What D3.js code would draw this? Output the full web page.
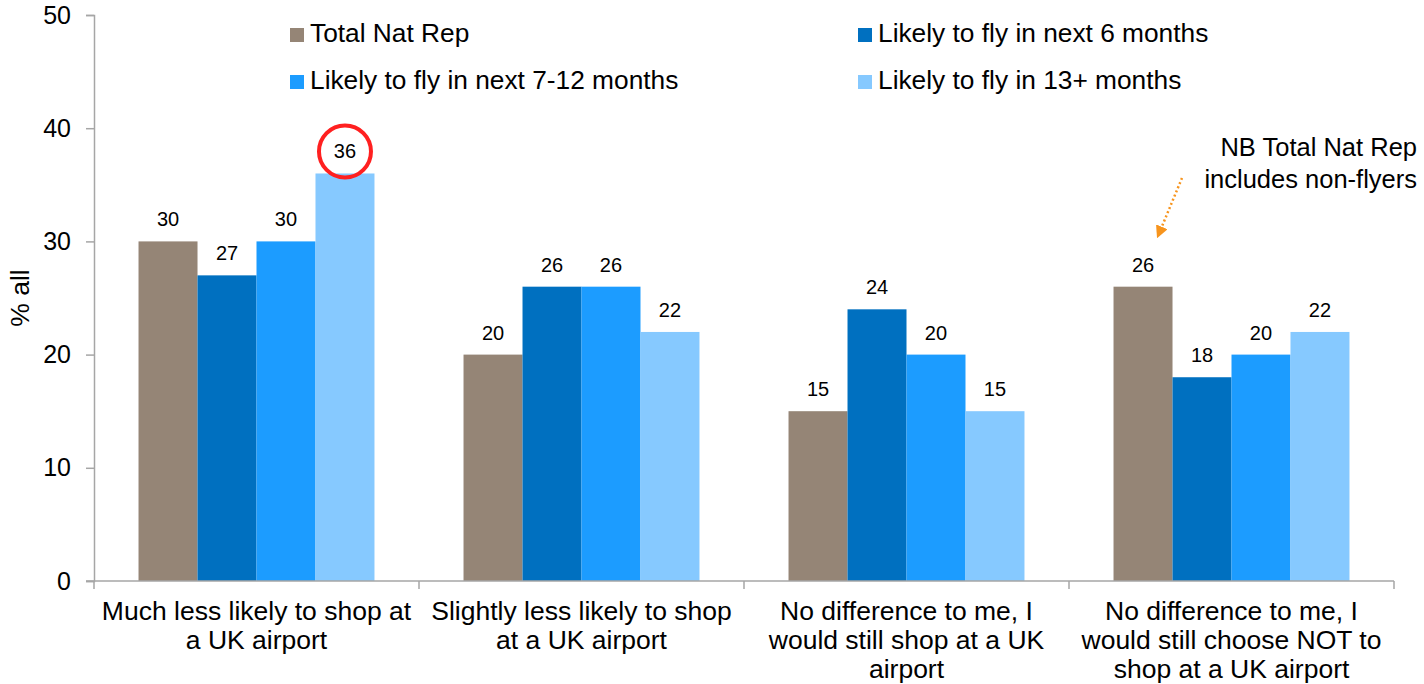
<!DOCTYPE html>
<html><head><meta charset="utf-8">
<script src="https://cdn.jsdelivr.net/npm/d3@7"></script>
<style>body{margin:0;background:#fff}svg{display:block;font-family:"Liberation Sans",Arial,sans-serif}</style>
</head><body>
<svg id="c" width="1424" height="684"></svg>
<script>
const categories = [
  ["Much less likely to shop at", "a UK airport"],
  ["Slightly less likely to shop", "at a UK airport"],
  ["No difference to me, I", "would still shop at a UK", "airport"],
  ["No difference to me, I", "would still choose NOT to", "shop at a UK airport"]
];
const seriesNames = ["Total Nat Rep", "Likely to fly in next 6 months", "Likely to fly in next 7-12 months", "Likely to fly in 13+ months"];
const seriesColors = ["#958576", "#0070C0", "#1C9CFF", "#86C9FF"];
const totalNatRep = [30, 20, 15, 26];
const next6 = [27, 26, 24, 18];
const next7to12 = [30, 26, 20, 20];
const months13plus = [36, 22, 15, 22];
const yTicks = [0, 10, 20, 30, 40, 50];

const series = [totalNatRep, next6, next7to12, months13plus];
const svg = d3.select("#c");
const x0 = d3.scaleBand().domain(d3.range(categories.length)).range([94, 1394]).paddingInner(0.274).paddingOuter(0.137);
const x1 = d3.scaleBand().domain(d3.range(series.length)).range([0, x0.bandwidth()]);
const y = d3.scaleLinear().domain([0, 50]).range([581, 15]);
const axisColor = "#A6A6A6";

// bars
series.forEach((vals, si) => {
  svg.append("g").selectAll("rect").data(vals).join("rect")
    .attr("x", (d, i) => x0(i) + x1(si))
    .attr("y", d => y(d))
    .attr("width", x1.bandwidth())
    .attr("height", d => y(0) - y(d))
    .attr("fill", seriesColors[si]);
  svg.append("g").selectAll("text").data(vals).join("text")
    .attr("x", (d, i) => x0(i) + x1(si) + x1.bandwidth() / 2)
    .attr("y", d => y(d) - 15)
    .attr("text-anchor", "middle")
    .attr("font-size", 20)
    .attr("fill", "#000")
    .text(d => d);
});

// y axis
const yAxis = svg.append("g").attr("transform", "translate(94,0)")
  .call(d3.axisLeft(y).tickValues(yTicks).tickSize(8).tickPadding(15));
yAxis.select(".domain").attr("stroke", axisColor).attr("stroke-width", 1.5);
yAxis.selectAll(".tick line").attr("stroke", axisColor).attr("stroke-width", 1.5);
yAxis.selectAll(".tick text").attr("font-size", 25).attr("fill", "#000").attr("font-family", "Liberation Sans, Arial, sans-serif");

// x axis
svg.append("line").attr("x1", 86).attr("x2", 1394).attr("y1", y(0)).attr("y2", y(0)).attr("stroke", axisColor).attr("stroke-width", 1.5);
const bounds = d3.range(categories.length + 1).map(i => 94 + i * x0.step());
svg.append("g").selectAll("line").data(bounds).join("line")
  .attr("x1", d => d).attr("x2", d => d).attr("y1", y(0)).attr("y2", y(0) + 8)
  .attr("stroke", axisColor).attr("stroke-width", 1.5);

// category labels
categories.forEach((lines, i) => {
  const cx = x0(i) + x0.bandwidth() / 2;
  const t = svg.append("text").attr("text-anchor", "middle").attr("font-size", 26.5).attr("fill", "#000")
    .attr("x", cx).attr("y", 620);
  lines.forEach((l, k) => t.append("tspan").attr("x", cx).attr("dy", k === 0 ? 0 : 29).text(l));
});

// y title
svg.append("text").attr("transform", "translate(29,298) rotate(-90)").attr("text-anchor", "middle")
  .attr("font-size", 26.5).attr("fill", "#000").text("% all");

// legend
const legendPos = [[290, 35], [858, 35], [290, 82], [858, 82]];
seriesNames.forEach((n, i) => {
  const [lx, ly] = legendPos[i];
  svg.append("rect").attr("x", lx).attr("y", ly - 7).attr("width", 14).attr("height", 14).attr("fill", seriesColors[i]);
  svg.append("text").attr("x", lx + 20).attr("y", ly + 7).attr("font-size", 26.3).attr("fill", "#000").text(n);
});

// highlight circle around max value
const hi = months13plus[0];
svg.append("circle").attr("cx", x0(0) + x1(3) + x1.bandwidth() / 2).attr("cy", y(hi) - 22).attr("r", 26)
  .attr("fill", "none").attr("stroke", "#FF2020").attr("stroke-width", 4);

// annotation
const note = svg.append("text").attr("text-anchor", "end").attr("font-size", 25.5).attr("fill", "#000");
note.append("tspan").attr("x", 1417).attr("y", 156).text("NB Total Nat Rep");
note.append("tspan").attr("x", 1417).attr("y", 188).text("includes non-flyers");

svg.append("defs").append("marker").attr("id", "ah").attr("viewBox", "0 0 10 10").attr("refX", 8).attr("refY", 5)
  .attr("markerWidth", 5).attr("markerHeight", 5).attr("orient", "auto")
  .append("path").attr("d", "M0,0L10,5L0,10Z").attr("fill", "#F7941D");
svg.append("line").attr("x1", 1182).attr("y1", 178).attr("x2", 1158).attr("y2", 236)
  .attr("stroke", "#F7941D").attr("stroke-width", 2.5).attr("stroke-dasharray", "2,2.5").attr("marker-end", "url(#ah)");
</script>
</body></html>
